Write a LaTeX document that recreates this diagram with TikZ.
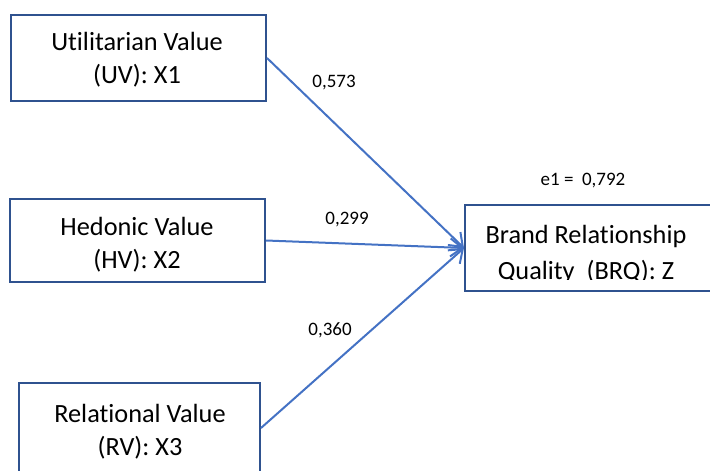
\documentclass[tikz,border=0pt]{standalone}
\usepackage{fontspec}
\setmainfont{Carlito}[Ligatures=NoCommon]
\usetikzlibrary{arrows.meta}
\definecolor{boxblue}{HTML}{2F528F}
\definecolor{arrowblue}{HTML}{4472C4}
\tikzset{
  varbox/.style={draw=boxblue, line width=2pt, fill=white, inner sep=0pt},
  boxtext/.style={align=center, inner sep=0pt, anchor=base,
    font=\fontsize{26.3}{33}\selectfont},
  path/.style={draw=arrowblue, line width=2pt,
    -{Straight Barb[length=12pt,width=18pt,line width=2pt]}},
  coef/.style={font=\fontsize{19}{20}\selectfont, inner sep=0pt}
}
\begin{document}
\begin{tikzpicture}[x=1pt,y=-1pt]
\useasboundingbox (0,0) rectangle (710,471);
\clip (0,0) rectangle (710,471);
\node[varbox, minimum width=255pt, minimum height=86pt] (uv) at (138.5,58) {};
\node[varbox, minimum width=255pt, minimum height=83pt] (hv) at (137.5,240.5) {};
\node[varbox, minimum width=241pt, minimum height=90pt] (rv) at (139.5,428) {};
\node[varbox, minimum width=248pt, minimum height=86pt] (brq) at (589,248) {};
\node[boxtext] (uvtext) at (137,83.5) {Utilitarian Value\\(UV): X1};
\node[boxtext] (hvtext) at (137,268) {Hedonic Value\\(HV): X2};
\node[boxtext] (rvtext) at (140,455) {Relational Value\\(RV): X3};
\begin{scope}
\clip (466,206) rectangle (710,279.5);
\node[boxtext, font=\fontsize{26.3}{36}\selectfont] (brqtext) at (586,279.5) {Brand Relationship\\Quality\ \ (BRQ): Z};
\end{scope}
\node[coef] (e1) at (583,181) {e1 =\ \ 0,792};
\draw[path] (uv.east) -- (brq.west);
\draw[path] (hv.east) -- (brq.west);
\draw[path] (rv.east) -- (brq.west);
\node[coef] (c1) at (334,83) {0,573};
\node[coef] (c2) at (347,220) {0,299};
\node[coef] (c3) at (330,330) {0,360};
\end{tikzpicture}
\end{document}
